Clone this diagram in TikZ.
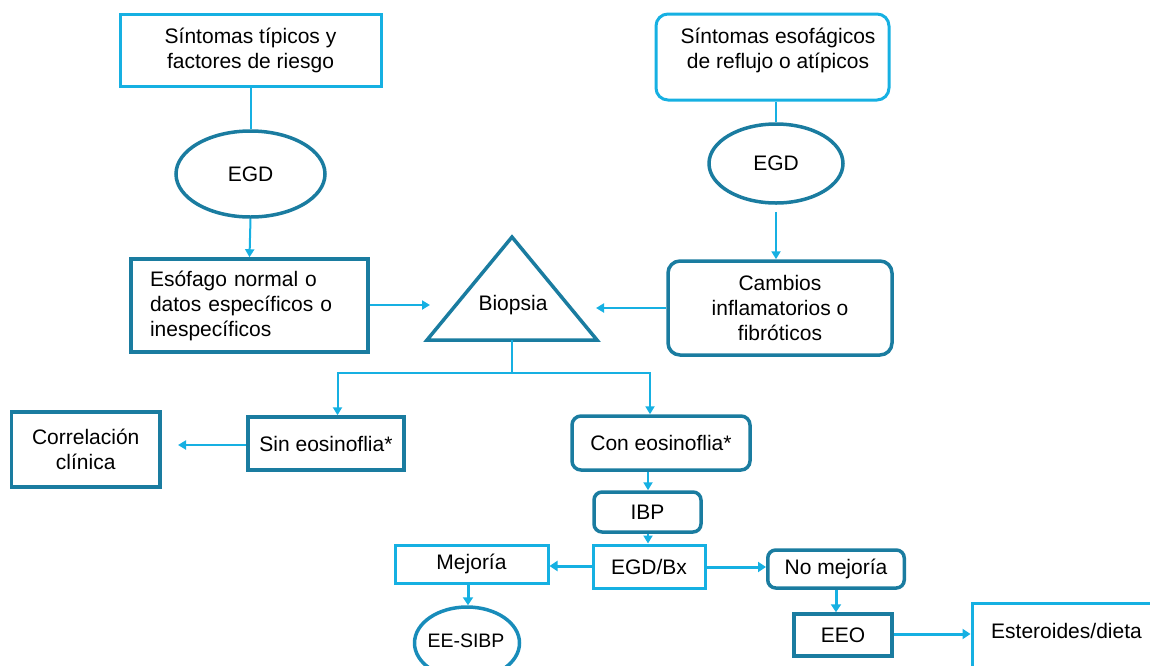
\documentclass[tikz,border=0pt]{standalone}
\usepackage{fontspec}
\setmainfont{Liberation Sans}
\usetikzlibrary{shapes.geometric,arrows.meta}
\definecolor{cy}{RGB}{22,176,226}
\definecolor{dk}{RGB}{26,124,160}
\definecolor{md}{RGB}{24,140,186}
\begin{document}
\begin{tikzpicture}[x=1pt,y=-1pt,
  font=\fontsize{21}{25}\selectfont,
  cybox/.style={draw=cy,line width=3pt,minimum width=#1,inner sep=0pt,align=center},
  dkbox/.style={draw=dk,line width=3.5pt,minimum width=#1,inner sep=0pt,align=center},
  ell/.style={ellipse,draw=dk,line width=3.5pt,inner sep=0pt},
  conn/.style={draw=cy,line width=2pt},
  arr/.style={conn,-{Triangle[width=9pt,length=8pt]}},
  barr/.style={draw=cy,line width=3pt,-{Triangle[width=10pt,length=8pt]}},
  txt/.style={inner sep=0pt,align=center}]
\useasboundingbox (0,0) rectangle (1150,665);
% top-left branch
\node[cybox=261pt,minimum height=72pt] (s1) at (250.5,50) {Síntomas típicos y\\factores de riesgo};
\node[ell,minimum width=149pt,minimum height=86pt] (e1) at (250.5,174) {EGD};
\node[dkbox=237pt,minimum height=93pt,text width=199pt,align=left] (b3) at (249.5,305.5) {Esófago normal o\\datos específicos o\\inespecíficos};
% top-right branch
\node[cybox=233pt,minimum height=86pt,rounded corners=12pt] (s2) at (772.5,57) {};
\node[txt] (s2t) at (778,50) {Síntomas esofágicos\\de reflujo o atípicos};
\node[ell,minimum width=134pt,minimum height=79pt] (e2) at (776,163.5) {EGD};
\node[dkbox=224pt,minimum height=94pt,rounded corners=12pt] (b7) at (780,308) {Cambios\\inflamatorios o\\fibróticos};
% triangle
\coordinate (ta) at (512,237);
\coordinate (tl) at (427,340);
\coordinate (tr) at (597,340);
\coordinate (tb) at (512,340);
\draw[dk,line width=3.5pt,line join=miter] (ta) -- (tr) -- (tl) -- cycle;
\node[txt] (bio) at (513,305) {Biopsia};
% middle row
\node[dkbox=148.5pt,minimum height=75pt] (cc) at (85.75,449.5) {Correlación\\clínica};
\node[dkbox=156pt,minimum height=53pt] (sin) at (326,443.5) {Sin eosinoflia*};
\node[dkbox=178pt,minimum height=54pt,rounded corners=9pt] (con) at (661,443) {Con eosinoflia*};
\node[dkbox=107pt,minimum height=40pt,rounded corners=8pt] (ibp) at (647.5,512) {IBP};
\node[cybox=112pt,minimum height=43pt] (egdbx) at (649,566.5) {EGD/Bx};
\node[cybox=153pt,minimum height=38pt] (mej) at (471.5,564) {Mejoría};
\node[ell,draw=md,minimum width=105pt,minimum height=72pt] (ees) at (467,643) {};
\node[txt,font=\fontsize{19.5}{24}\selectfont] (eest) at (466,641) {EE-SIBP};
\node[dkbox=136.5pt,minimum height=38pt,rounded corners=8pt] (nomej) at (836,569) {No mejoría};
\node[dkbox=98pt,minimum height=42pt] (eeo) at (843,635) {EEO};
\node[cybox=250pt,minimum height=90pt] (est) at (1097,648) {};
\node[txt,anchor=west] (estt) at (991,631) {Esteroides/dieta};
% connectors
\draw[conn] (s1.south) -- (e1.north);
\draw[arr] (e1.south) -- (b3.north);
\coordinate (b3in) at (430,305);
\draw[arr] (b3.east |- b3in) -- (b3in);
\draw[conn] (s2.south -| e2.north) -- (e2.north);
\draw[arr] ([yshift=-7pt]e2.south) -- (b7.north -| e2.south);
\coordinate (b7in) at (596,308);
\draw[arr] (b7.west |- b7in) -- (b7in);
\coordinate (split) at (512,373);
\coordinate (sinin) at (337.5,373);
\coordinate (conin) at (650,373);
\draw[conn] (tb) -- (split);
\draw[arr] (split) -- (sinin) -- (sinin |- sin.north);
\draw[arr] (split) -- (conin) -- (conin |- con.north);
\coordinate (ccin) at (178,445);
\draw[arr] (sin.west |- ccin) -- (ccin);
\coordinate (vx) at (648,0);
\draw[arr] (con.south -| vx) -- (ibp.north -| vx);
\draw[arr] (ibp.south -| vx) -- (egdbx.north -| vx);
\draw[barr] (egdbx.west |- 0,566) -- (mej.east |- 0,566);
\draw[barr] (egdbx.east |- 0,567) -- (nomej.west |- 0,567);
\draw[barr] (mej.south -| 468,0) -- (ees.north -| 468,0);
\draw[barr] (nomej.south) -- (eeo.north -| nomej.south);
\draw[barr] (eeo.east |- 0,634) -- (est.west |- 0,634);
\end{tikzpicture}
\end{document}
